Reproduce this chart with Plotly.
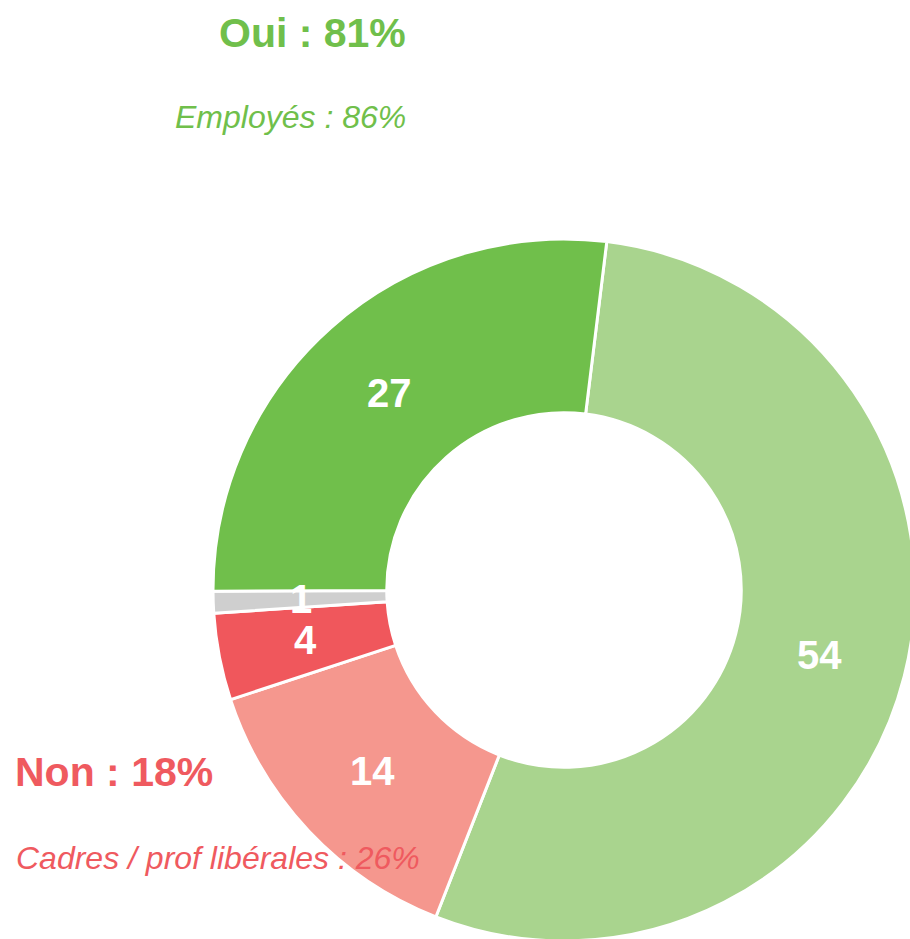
import numpy as np
import plotly.graph_objects as go

# Slices clockwise from just right of 12 o'clock.
labels = ["Oui - employés", "Non - cadres", "Non", "Sans opinion", "Oui"]
values = [54, 14, 4, 1, 27]
colors = ["#A9D48E", "#F5978E", "#F0575C", "#CFCFCF", "#70BF4B"]

GREEN = "#70BF4B"
RED = "#EF5A5F"
FONT = "Liberation Sans, Arial, sans-serif"

# Figure a bit larger than the window: the ring runs off the right/bottom edge.
W, H = 920, 950
cx, cy, r = 564, 590, 351  # pixel centre / outer radius
HOLE = 0.505
ROT = 7

fig = go.Figure(go.Pie(
    labels=labels,
    values=values,
    marker=dict(colors=colors, line=dict(color="white", width=3)),
    hole=HOLE,
    sort=False,
    direction="clockwise",
    rotation=ROT,
    textinfo="none",
    hoverinfo="label+value",
    showlegend=False,
    domain=dict(x=[(cx - r) / W, (cx + r) / W],
                y=[(H - cy - r) / H, (H - cy + r) / H]),
))

# Value labels sit mid-ring at each slice's mid-angle (derived from the data).
vals = np.array(values, dtype=float)
mid = np.cumsum(vals) - vals / 2
theta = np.radians(ROT + 360 * mid / vals.sum())
rm = (r - 1) * (1 + HOLE) / 2
for v, t in zip(values, theta):
    fig.add_annotation(
        text=f"<b>{v}</b>",
        x=(cx + rm * np.sin(t)) / W, y=1 - (cy - rm * np.cos(t)) / H,
        xref="paper", yref="paper", xanchor="center", yanchor="middle",
        showarrow=False,
        font=dict(family=FONT, size=40, color="white"),
    )

annots = [
    ("<b>Oui : 81%</b>", 408, 33, "right", GREEN, 41),
    ("<i>Employés : 86%</i>", 408, 117, "right", GREEN, 32),
    ("<b>Non : 18%</b>", 13, 772, "left", RED, 41),
    ("<i>Cadres / prof libérales : 26%</i>", 14, 858, "left", RED, 32),
]
for text, x, y, anchor, col, size in annots:
    fig.add_annotation(
        text=text, x=x / W, y=1 - y / H, xref="paper", yref="paper",
        xanchor=anchor, yanchor="middle", showarrow=False,
        font=dict(family=FONT, size=size, color=col),
    )

fig.update_layout(
    width=W, height=H,
    margin=dict(l=0, r=0, t=0, b=0),
    paper_bgcolor="white",
)
fig.write_html("out.html",
               config={"displayModeBar": False},
               post_script="document.body.style.margin='0';"
                           "document.body.style.overflow='hidden';")
